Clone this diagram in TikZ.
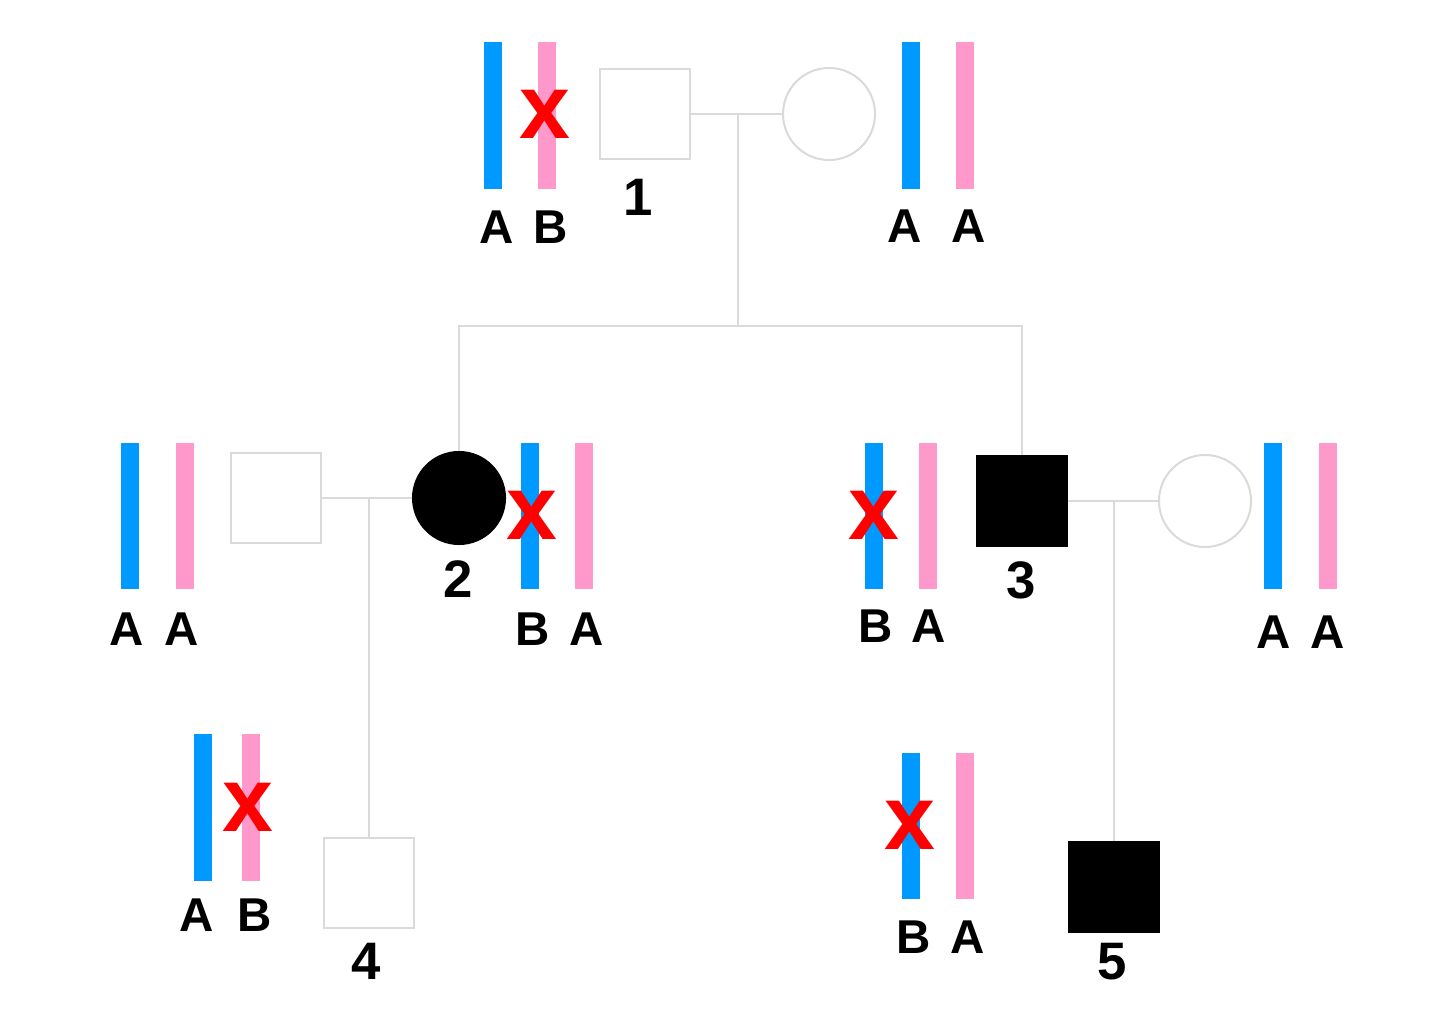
\documentclass[tikz,border=0pt]{standalone}
\usepackage{fontspec}
\setmainfont{Liberation Sans}
\definecolor{lg}{RGB}{218,218,218}
\definecolor{cblue}{RGB}{0,153,255}
\definecolor{cpink}{RGB}{255,153,204}
\definecolor{cred}{RGB}{255,0,0}
\begin{document}
\begin{tikzpicture}[x=0.01cm,y=-0.01cm,
  sq/.style={draw=lg, line width=0.02cm, minimum size=0.90cm, inner sep=0pt, fill=white},
  ci/.style={circle, draw=lg, line width=0.02cm, minimum size=0.92cm, inner sep=0pt, fill=white},
  aff/.style={fill=black, draw=black},
  bbar/.style={fill=cblue, minimum width=0.18cm, minimum height=1.46cm, inner sep=0pt},
  pbar/.style={fill=cpink, minimum width=0.18cm, minimum height=1.46cm, inner sep=0pt},
  lab/.style={font=\fontsize{13.5}{14}\selectfont\bfseries, inner sep=0pt},
  num/.style={font=\fontsize{15}{16}\selectfont\bfseries, inner sep=0pt},
  mut/.style={text=cred, font=\fontsize{26}{26}\selectfont\bfseries, inner sep=0pt},
  conn/.style={draw=lg, line width=0.02cm}]
\useasboundingbox (0,0) rectangle (1440,1016);

% ---------- generation I ----------
\node[bbar] (b1a) at (493,115.5) {};
\node[pbar] (b1b) at (547,115.5) {};
\node[mut] (x1) at (545,114) {x};
\node[lab] (l1a) at (497,227) {A};
\node[lab] (l1b) at (551,227) {B};
\node[sq] (sq1) at (645,114) {};
\node[num] (n1) at (638,197) {1};
\node[ci] (c1) at (829,114) {};
\node[bbar] (b2a) at (911,115.5) {};
\node[pbar] (b2b) at (965,115.5) {};
\node[lab] (l2a) at (905,226) {A};
\node[lab] (l2b) at (969,226) {A};

% ---------- generation II ----------
\node[bbar] (b3a) at (130,516) {};
\node[pbar] (b3b) at (185,516) {};
\node[lab] (l3a) at (127,629) {A};
\node[lab] (l3b) at (182,629) {A};
\node[sq] (sp2) at (276,498) {};
\node[ci,aff] (c2) at (459,498) {};
\node[num] (n2) at (458,579) {2};
\node[bbar] (b4a) at (530,516) {};
\node[pbar] (b4b) at (584,516) {};
\node[mut] (x2) at (532,515) {x};
\node[lab] (l4a) at (533,629) {B};
\node[lab] (l4b) at (587,629) {A};

\node[bbar] (b5a) at (874,516) {};
\node[pbar] (b5b) at (928,516) {};
\node[mut] (x3) at (874,515) {x};
\node[lab] (l5a) at (876,626) {B};
\node[lab] (l5b) at (929,626) {A};
\node[sq,aff] (sq3) at (1022,501) {};
\node[num] (n3) at (1021,580) {3};
\node[ci] (c3) at (1205,501) {};
\node[bbar] (b6a) at (1273,516) {};
\node[pbar] (b6b) at (1328,516) {};
\node[lab] (l6a) at (1274,632) {A};
\node[lab] (l6b) at (1328,632) {A};

% ---------- generation III ----------
\node[bbar] (b7a) at (203,807.5) {};
\node[pbar] (b7b) at (251,807.5) {};
\node[mut] (x4) at (248,807) {x};
\node[lab] (l7a) at (197,915) {A};
\node[lab] (l7b) at (255,915) {B};
\node[sq] (sq4) at (369,883) {};
\node[num] (n4) at (366,961) {4};

\node[bbar] (b8a) at (911,826) {};
\node[pbar] (b8b) at (965,826) {};
\node[mut] (x5) at (910,825) {x};
\node[lab] (l8a) at (914,937) {B};
\node[lab] (l8b) at (968,937) {A};
\node[sq,aff] (sq5) at (1114,887) {};
\node[num] (n5) at (1112,962) {5};

% ---------- connectors ----------
\coordinate (m1) at (738,114);
\coordinate (sib) at (738,326);
\coordinate (m2) at (369,498);
\coordinate (m3) at (1114,501);
\draw[conn] (sq1.east) -- (c1.west);
\draw[conn] (m1) -- (sib);
\draw[conn] (c2.north) -- (c2.north |- sib) -- (sq3.north |- sib) -- (sq3.north);
\draw[conn] (sp2.east) -- (c2.west);
\draw[conn] (m2) -- (sq4.north);
\draw[conn] (sq3.east) -- (c3.west);
\draw[conn] (m3) -- (sq5.north);
\end{tikzpicture}
\end{document}
